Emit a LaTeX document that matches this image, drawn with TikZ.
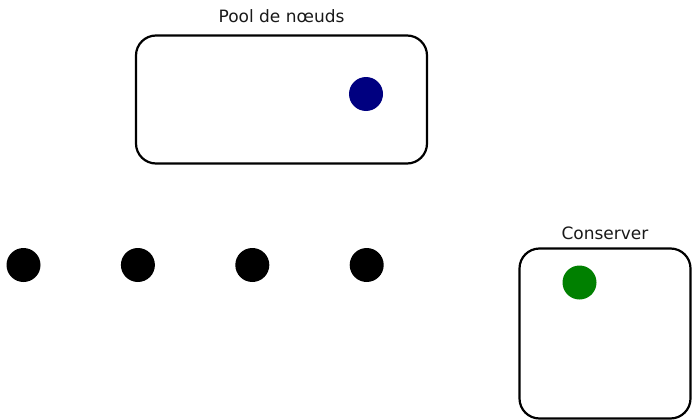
\documentclass[tikz,border=0pt]{standalone}
\usepackage{fontspec}
\setmainfont{DejaVu Sans}
\usepackage{xcolor}
\usetikzlibrary{positioning}
\definecolor{cpool}{RGB}{0,0,128}
\definecolor{ckeep}{RGB}{0,128,0}

\begin{document}
\begin{tikzpicture}[
  x=1pt, y=-1pt,
  font=\fontsize{17}{20}\selectfont,
  box/.style={draw, line width=2.2pt, rounded corners=20pt, inner sep=0pt},
  dot/.style={circle, fill, inner sep=0pt, minimum size=34pt},
  title/.style={inner sep=0pt, text=black!90},
]
\useasboundingbox (0,0) rectangle (693,420);

% --- pool of nodes (top) ---
\node[box, minimum width=291pt, minimum height=128pt] (pool) at (281.5,99.5) {};
\node[title, above=11pt of pool] (pooltitle) {Pool de nœuds};
\node[dot, fill=cpool] (p1) at (366,94) {};

% --- row of nodes ---
\node[dot] (n1) at (23.5,265) {};
\node[dot, right=80pt of n1] (n2) {};
\node[dot, right=80pt of n2] (n3) {};
\node[dot, right=80pt of n3] (n4) {};

% --- kept nodes ---
\node[box, minimum width=171pt, minimum height=170pt] (keep) at (605,333.5) {};
\node[title, above=7pt of keep] (keeptitle) {Conserver};
\node[dot, fill=ckeep] (k1) at (579.5,282.5) {};
\end{tikzpicture}
\end{document}
